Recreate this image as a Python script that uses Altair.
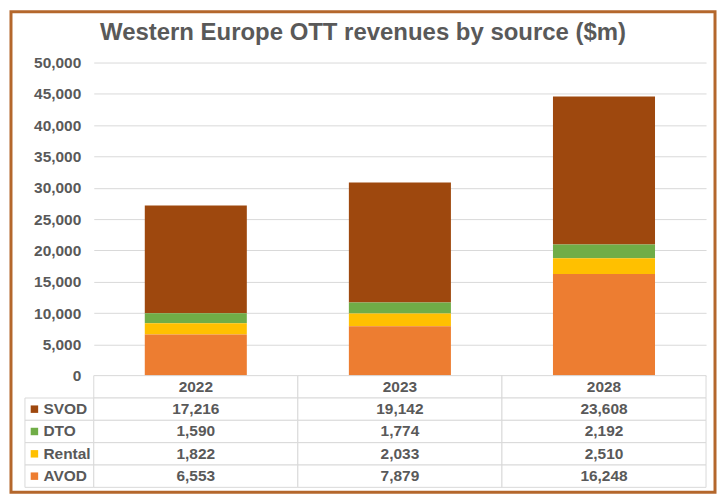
import altair as alt
import pandas as pd

years = ["2022", "2023", "2028"]
series = ["SVOD", "DTO", "Rental", "AVOD"]
svod = [17216, 19142, 23608]
dto = [1590, 1774, 2192]
rental = [1822, 2033, 2510]
avod = [6553, 7879, 16248]
colors = ["#9e480e", "#70ad47", "#ffc000", "#ed7d31"]
y_ticks = list(range(0, 50001, 5000))

FONT = "Liberation Sans"
GREY = "#595959"
LINE = "#d9d9d9"
FRAME = "#b4672c"

values = {"SVOD": svod, "DTO": dto, "Rental": rental, "AVOD": avod}
rows = []
for k, s in enumerate(series):
    for i, y in enumerate(years):
        rows.append({"series": s, "year": y, "value": values[s][i], "stack": k})
df = pd.DataFrame(rows)

row_order = ["hdr"] + series
cells = [{"row": "hdr", "year": y, "label": y} for y in years]
cells += [{"row": r["series"], "year": r["year"], "label": f"{r['value']:,}"} for r in rows]
cells_df = pd.DataFrame(cells)
label_df = pd.DataFrame({"row": series})

color_scale = alt.Scale(domain=series, range=colors)

# stacked bars
bars = alt.Chart(df).mark_bar().encode(
    x=alt.X("year:N", sort=years, axis=None,
            scale=alt.Scale(paddingInner=0.5, paddingOuter=0.25)),
    y=alt.Y("value:Q", stack="zero",
            scale=alt.Scale(domain=[0, 50000], nice=False),
            axis=alt.Axis(values=y_ticks, format=",.0f", title=None, domain=False,
                          ticks=False, labelPadding=13, labelFont=FONT,
                          labelFontSize=15.5, labelFontWeight="bold",
                          labelColor=GREY, gridColor=LINE)),
    color=alt.Color("series:N", scale=color_scale, legend=None),
    order=alt.Order("stack:Q", sort="descending"),
)

frame = alt.Chart(pd.DataFrame({"f": [0]})).mark_rect(
    fillOpacity=0, stroke=FRAME, strokeWidth=3
).encode(x=alt.value(-83), x2=alt.value(623), y=alt.value(-51), y2=alt.value(431))

top = (bars + frame).properties(width=614, height=314)

# data table under the bars
x_tab = alt.X("year:N", sort=years, axis=None,
              scale=alt.Scale(paddingInner=0, paddingOuter=0))
y_tab = alt.Y("row:N", sort=row_order,
              scale=alt.Scale(domain=row_order, paddingInner=0, paddingOuter=0),
              axis=alt.Axis(title=None, domain=False, ticks=False, tickSize=0,
                            labelAlign="left", labelPadding=51, grid=False,
                            labelExpr="datum.value == 'hdr' ? '' : datum.value",
                            labelFont=FONT, labelFontSize=15.5,
                            labelFontWeight="bold", labelColor=GREY))

cell_rects = alt.Chart(cells_df).mark_rect(
    fill="white", stroke=LINE, strokeWidth=1
).encode(x=x_tab, y=y_tab)

label_rects = alt.Chart(label_df).mark_rect(
    fill="white", stroke=LINE, strokeWidth=1
).encode(x=alt.value(-69), x2=alt.value(0), y=y_tab)

swatches = alt.Chart(label_df).mark_square(size=56, opacity=1).encode(
    x=alt.value(-59.5), y=y_tab,
    color=alt.Color("row:N", scale=color_scale, legend=None),
)

cell_text = alt.Chart(cells_df).mark_text(
    font=FONT, fontSize=15.5, fontWeight="bold", color=GREY
).encode(x=x_tab, y=y_tab, text="label:N")

table = (label_rects + cell_rects + swatches + cell_text).properties(width=614, height=112)

chart = alt.vconcat(top, table, spacing=0, bounds="flush").properties(
    title=alt.TitleParams("Western Europe OTT revenues by source ($m)", font=FONT,
                          fontSize=24, fontWeight="bold", color=GREY, anchor="middle",
                          offset=-35),
    padding={"left": 1, "top": 1, "right": 1, "bottom": 1},
).configure_view(strokeWidth=0)

chart.save("out.html", embed_options={"renderer": "svg", "actions": False})
